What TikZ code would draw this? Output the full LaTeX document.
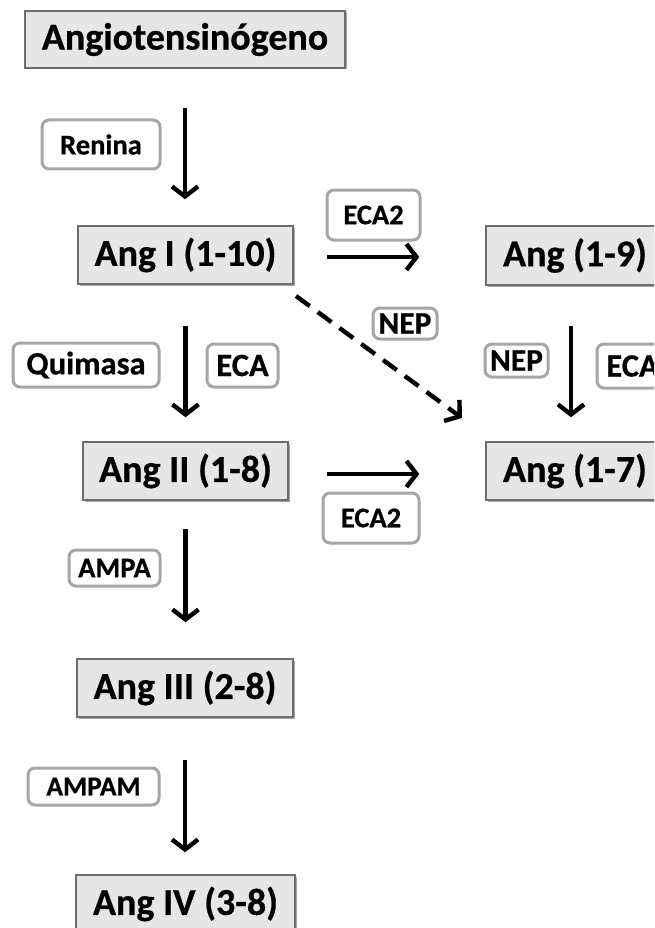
\documentclass[tikz,border=0pt]{standalone}
\usepackage{fontspec}
\setmainfont{Carlito}[BoldFeatures={FakeBold=0.6}]
\usetikzlibrary{arrows.meta,shadows}
\definecolor{boxfill}{HTML}{E6E6E6}
\definecolor{boxdraw}{HTML}{6E6E6E}
\definecolor{labdraw}{HTML}{A6A6A6}
\tikzset{
  mainbox/.style={draw=boxdraw, line width=1.5pt, fill=boxfill, inner sep=0pt,
    font=\fontsize{38}{40}\selectfont\bfseries,
    drop shadow={shadow xshift=1.5pt, shadow yshift=-1.5pt, opacity=0.35, fill=black}},
  labbox/.style={draw=labdraw, line width=3pt, fill=white, rounded corners=7pt, inner sep=0pt,
    font=\fontsize{28.5}{30}\selectfont\bfseries},
  bigl/.style={font=\fontsize{32.5}{34}\selectfont\bfseries},
  midl/.style={font=\fontsize{31.5}{33}\selectfont\bfseries},
  arr/.style={line width=4.4pt, -{Straight Barb[length=10pt,width=26pt]}},
  darr/.style={arr, dash pattern=on 17pt off 10pt}
}
\begin{document}
\begin{tikzpicture}[x=1pt,y=-1pt]
\clip (0,0) rectangle (654,928);
\useasboundingbox (0,0) rectangle (654,928);
\fill[white] (0,0) rectangle (654,928);
% main boxes
\node[mainbox, minimum width=320pt, minimum height=57pt] (ango) at (185,39.5) {Angiotensinógeno};
\node[mainbox, minimum width=215pt, minimum height=58pt] (ang1) at (185.5,255) {Ang I (1-10)};
\node[mainbox, minimum width=178pt, minimum height=59pt] (ang19) at (575,255.5) {Ang (1-9)};
\node[mainbox, minimum width=178pt, minimum height=58pt] (ang17) at (575,471) {Ang (1-7)};
\node[mainbox, minimum width=205pt, minimum height=58pt] (ang2) at (185.5,471) {Ang II (1-8)};
\node[mainbox, minimum width=216pt, minimum height=58pt] (ang3) at (185,688) {Ang III (2-8)};
\node[mainbox, minimum width=219pt, minimum height=58pt] (ang4) at (185.5,904) {Ang IV (3-8)};
% enzyme labels
\node[labbox, minimum width=118pt, minimum height=49pt] (renina) at (101,144.5) {Renina};
\node[labbox, minimum width=93pt, minimum height=50pt] (eca2a) at (373.5,215) {ECA2};
\node[labbox, midl, minimum width=64pt, minimum height=31pt] (nep1) at (405,323.5) {NEP};
\node[labbox, midl, minimum width=63pt, minimum height=33pt] (nep2) at (516.5,360.5) {NEP};
\node[labbox, bigl, minimum width=71pt, minimum height=44pt] (ecar) at (632.5,366) {ECA};
\node[labbox, bigl, minimum width=146pt, minimum height=44pt] (quim) at (86,365) {Quimasa};
\node[labbox, bigl, minimum width=71pt, minimum height=43pt] (ecal) at (242.5,365.5) {ECA};
\node[labbox, minimum width=96pt, minimum height=50pt] (eca2b) at (371,518) {ECA2};
\node[labbox, minimum width=91pt, minimum height=36pt] (ampa) at (114.5,568) {AMPA};
\node[labbox, font=\fontsize{27.5}{29}\selectfont\bfseries, minimum width=131pt, minimum height=37pt] (ampam) at (93.5,786.5) {AMPAM};
% arrows
\draw[arr, shorten <=39pt, shorten >=26pt] (ango.south) -- (ango.south |- ang1.north);
\draw[arr, shorten <=41pt, shorten >=24pt] (ang1.south) -- (ang1.south |- ang2.north);
\draw[arr, shorten <=28pt, shorten >=36pt] (ang2.south) -- (ang2.south |- ang3.north);
\draw[arr, shorten <=42pt, shorten >=22pt] (ang3.south) -- (ang3.south |- ang4.north);
\draw[arr, shorten <=33pt, shorten >=66pt] ([yshift=-2pt]ang1.east) -- ([yshift=-2pt]ang1.east -| ang19.west);
\draw[arr, shorten <=38pt, shorten >=66pt] ([yshift=-3pt]ang2.east) -- ([yshift=-3pt]ang2.east -| ang17.west);
\draw[arr, shorten <=40pt, shorten >=24pt] ([xshift=-4pt]ang19.south) -- ([xshift=-4pt]ang19.south |- ang17.north);
\coordinate (d1) at (296,296);
\coordinate (d2) at (462,418);
\draw[darr] (d1) -- (d2);
\end{tikzpicture}
\end{document}
